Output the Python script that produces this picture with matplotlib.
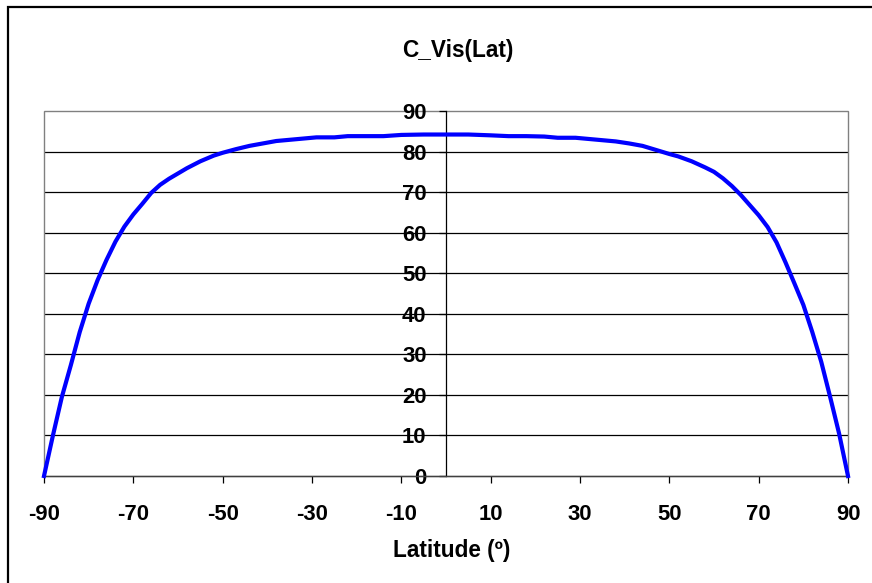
import numpy as np
import matplotlib
matplotlib.use("Agg")
import matplotlib.pyplot as plt
from matplotlib.patches import Rectangle

plt.rcParams["axes.unicode_minus"] = False

# ── data ──────────────────────────────────────────────────────────────────────
lat = [-90, -88, -86, -84, -82, -80, -78, -76, -74, -72, -70, -68, -66, -64,
       -62, -60, -58, -55, -52, -50, -47, -44, -41, -38, -35, -32, -29, -25,
       -22, -18, -14, -10, -5, 0, 5, 10, 14, 18, 22, 25, 29, 32, 35, 38, 41,
       44, 47, 50, 52, 55, 58, 60, 62, 64, 66, 68, 70, 72, 74, 76, 78, 80, 82,
       84, 86, 88, 90]
c_vis = [0.0, 10.0, 19.5, 27.3, 35.5, 42.5, 48.3, 53.3, 57.8, 61.5, 64.5,
         67.1, 69.8, 71.8, 73.3, 74.6, 75.9, 77.6, 79.0, 79.7, 80.6, 81.4,
         82.0, 82.6, 82.9, 83.2, 83.5, 83.5, 83.8, 83.8, 83.8, 84.1, 84.2,
         84.2, 84.2, 84.0, 83.8, 83.8, 83.7, 83.4, 83.4, 83.1, 82.8, 82.5,
         82.0, 81.4, 80.4, 79.4, 78.8, 77.6, 76.1, 75.0, 73.4, 71.5, 69.3,
         66.8, 64.3, 61.4, 57.6, 52.7, 47.5, 42.2, 35.5, 28.2, 19.5, 10.5, 0.0]

x_ticks = [-90, -70, -50, -30, -10, 10, 30, 50, 70, 90]
y_ticks = [0, 10, 20, 30, 40, 50, 60, 70, 80, 90]

FONT = "Liberation Sans"

# ── figure ────────────────────────────────────────────────────────────────────
fig = plt.figure(figsize=(8.72, 5.83), dpi=100)
W, H = 872, 583

# outer chart border (only top/left visible in the original)
fig.patches.append(Rectangle((8 / W, -0.1), 1.2, 1 - 7 / H + 0.1,
                             transform=fig.transFigure, fill=False,
                             edgecolor="black", lw=1.6, zorder=0))

ax = fig.add_axes([44 / W, (H - 476) / H, 804 / W, 365 / H])
ax.plot(lat, c_vis, color="#0000FF", lw=3.0, zorder=3, clip_on=False,
        solid_joinstyle="round")

ax.set_xlim(-90, 90)
ax.set_ylim(0, 90)
ax.set_xticks(x_ticks)
ax.set_yticks(y_ticks)

# horizontal gridlines
for y in y_ticks[1:-1]:
    ax.axhline(y, color="black", lw=0.9, zorder=1)

# plot area border (grey)
ax.add_patch(Rectangle((0, 0), 1, 1, transform=ax.transAxes, fill=False,
                       edgecolor="#808080", lw=1.0, zorder=1, clip_on=False))

for s in ["top", "right"]:
    ax.spines[s].set_visible(False)
ax.spines["left"].set_position(("data", 0))
ax.spines["left"].set_color("black")
ax.spines["left"].set_linewidth(0.9)
ax.spines["bottom"].set_color("#404040")
ax.spines["bottom"].set_linewidth(1.0)

ax.tick_params(axis="y", direction="out", length=5, width=0.9, pad=9,
               labelsize=15.8)
ax.tick_params(axis="x", direction="out", length=5, width=0.9, pad=15,
               labelsize=15.8)
for lbl in ax.get_xticklabels() + ax.get_yticklabels():
    lbl.set_fontfamily(FONT)
    lbl.set_fontweight("bold")

fig.text(0.525, 1 - 50 / H, "C_Vis(Lat)", ha="center", va="center",
         fontsize=16.3, fontweight="bold", fontfamily=FONT)
fig.text(452 / W, 1 - 551 / H, "Latitude (º)", ha="center", va="center",
         fontsize=16.3, fontweight="bold", fontfamily=FONT)

fig.savefig("out.png", dpi=100)
